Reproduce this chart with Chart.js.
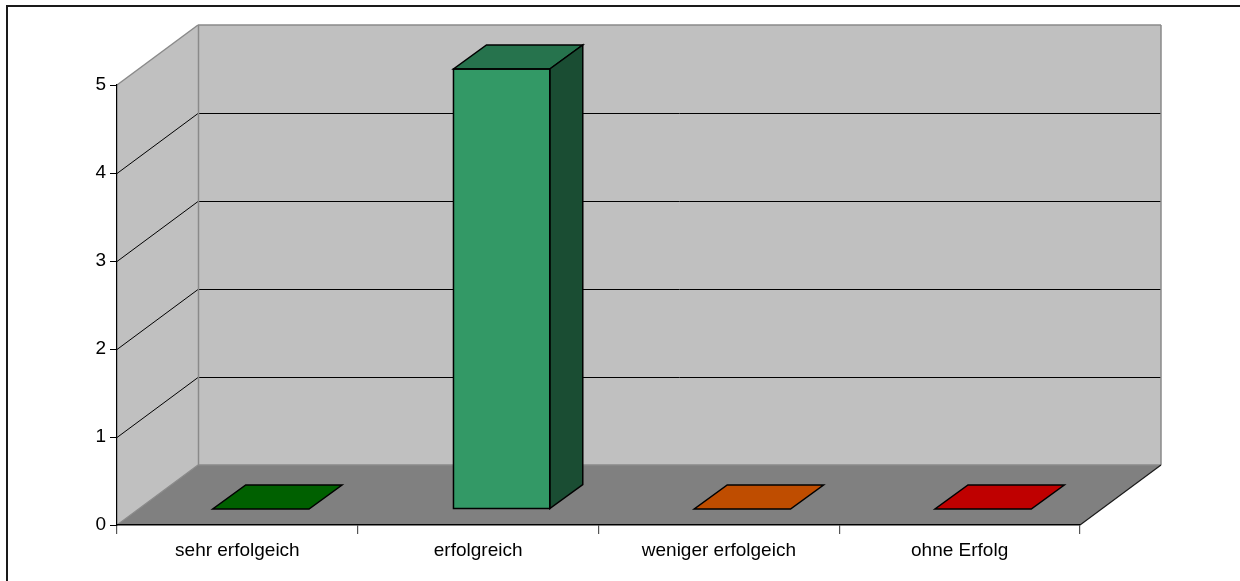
<!DOCTYPE html>
<html>
<head>
<meta charset="utf-8">
<script src="https://cdn.jsdelivr.net/npm/chart.js@4/dist/chart.umd.min.js"></script>
<style>
  html, body { margin: 0; padding: 0; background: #fff; }
  canvas { display: block; }
</style>
</head>
<body>
<canvas id="c" width="1240" height="581"></canvas>
<script>
// Categories, values and colours of the 3D column chart
const categories = ['sehr erfolgeich', 'erfolgreich', 'weniger erfolgeich', 'ohne Erfolg'];
const values = [0, 5, 0, 0];
const barColors = ['#008000', '#339966', '#FF6600', '#FF0000'];
const yTicks = [0, 1, 2, 3, 4, 5];

// 3D geometry (pixels)
const WALL_DX = 81, WALL_DY = 60;     // depth of the box walls
const FACE_DX = 23.5, FACE_DY = 16;   // where the column front faces sit inside the box
const BAR_DX = 33, BAR_DY = 24;       // depth of each column

function shade(hex, f) {
  const n = parseInt(hex.slice(1), 16);
  const r = Math.round(((n >> 16) & 255) * f);
  const g = Math.round(((n >> 8) & 255) * f);
  const b = Math.round((n & 255) * f);
  return `rgb(${r},${g},${b})`;
}

function poly(ctx, pts, fill, stroke, lw) {
  ctx.beginPath();
  ctx.moveTo(pts[0][0], pts[0][1]);
  for (let i = 1; i < pts.length; i++) ctx.lineTo(pts[i][0], pts[i][1]);
  ctx.closePath();
  if (fill) { ctx.fillStyle = fill; ctx.fill(); }
  if (stroke) { ctx.strokeStyle = stroke; ctx.lineWidth = lw || 1; ctx.stroke(); }
}

function line(ctx, x1, y1, x2, y2, color, lw) {
  ctx.beginPath();
  ctx.moveTo(x1, y1);
  ctx.lineTo(x2, y2);
  ctx.strokeStyle = color;
  ctx.lineWidth = lw || 1;
  ctx.stroke();
}

const box3d = {
  id: 'box3d',
  beforeDraw(chart) {
    const ctx = chart.ctx;
    const { left, right, top, bottom } = chart.chartArea;
    const y = chart.scales.y;
    ctx.save();
    ctx.fillStyle = '#ffffff';
    ctx.fillRect(0, 0, chart.width, chart.height);
    // outer frame
    ctx.strokeStyle = '#1a1a1a';
    ctx.lineWidth = 2;
    ctx.strokeRect(7, 6, chart.width + 20, chart.height + 20);

    const bl = left + WALL_DX, br = right + WALL_DX;
    const bt = top - WALL_DY, bb = bottom - WALL_DY;
    // side wall, back wall, floor
    poly(ctx, [[left, top], [bl, bt], [bl, bb], [left, bottom]], '#C0C0C0');
    poly(ctx, [[bl, bt], [br, bt], [br, bb], [bl, bb]], '#C0C0C0');
    poly(ctx, [[left, bottom], [right, bottom], [br, bb], [bl, bb]], '#808080');

    // gridlines on the walls
    ctx.lineWidth = 1;
    yTicks.forEach(v => {
      if (v === 0 || v === yTicks[yTicks.length - 1]) return;
      const py = Math.round(y.getPixelForValue(v)) + 0.5;
      line(ctx, left, py, bl, py - WALL_DY, '#000');
      line(ctx, bl, py - WALL_DY, br, py - WALL_DY, '#000');
    });

    // wall edges
    const edge = '#8a8a8a';
    line(ctx, left, top, bl, bt, edge, 1.5);
    line(ctx, bl, bt, br, bt, edge, 1.5);
    line(ctx, bl + 0.5, bt, bl + 0.5, bb, edge, 1.5);
    line(ctx, br, bt, br, bb, edge, 1.5);
    line(ctx, bl, bb, br, bb, edge, 1.5);
    line(ctx, left, bottom, bl, bb, edge, 1.2);
    line(ctx, right, bottom, br, bb, '#1a1a1a', 1.2);
    ctx.restore();
  },
  beforeDatasetsDraw(chart) {
    chart.ctx.save();
    chart.ctx.translate(FACE_DX, -FACE_DY);
  },
  afterDatasetsDraw(chart) {
    const ctx = chart.ctx;
    const meta = chart.getDatasetMeta(0);
    meta.data.forEach((bar, i) => {
      const p = bar.getProps(['x', 'y', 'base', 'width'], true);
      const x0 = p.x - p.width / 2, x1 = p.x + p.width / 2;
      const c = barColors[i];
      // top face
      poly(ctx, [[x0, p.y], [x1, p.y], [x1 + BAR_DX, p.y - BAR_DY], [x0 + BAR_DX, p.y - BAR_DY]],
        shade(c, 0.75), '#000', 1.5);
      // side face
      if (p.base - p.y > 0.5) {
        poly(ctx, [[x1, p.y], [x1 + BAR_DX, p.y - BAR_DY], [x1 + BAR_DX, p.base - BAR_DY], [x1, p.base]],
          shade(c, 0.5), '#000', 1.5);
        ctx.strokeStyle = '#000';
        ctx.lineWidth = 1.5;
        ctx.strokeRect(x0, p.y, p.width, p.base - p.y);
      }
    });
    ctx.restore();
  }
};

new Chart(document.getElementById('c'), {
  type: 'bar',
  data: {
    labels: categories,
    datasets: [{
      data: values,
      backgroundColor: barColors,
      borderWidth: 0,
      categoryPercentage: 0.4,
      barPercentage: 1,
      clip: false
    }]
  },
  options: {
    responsive: false,
    animation: false,
    events: [],
    layout: { padding: { top: 85, right: 160, left: 0, bottom: 0 } },
    plugins: { legend: { display: false }, tooltip: { enabled: false } },
    scales: {
      x: {
        offset: true,
        afterFit(s) { s.height = 56; },
        grid: { offset: true, drawOnChartArea: false, drawTicks: true, tickLength: 9, tickColor: '#555', lineWidth: 1.2 },
        border: { display: true, color: '#000', width: 1.5 },
        ticks: { color: '#000', padding: 5, font: { family: '"Liberation Sans", Arial, sans-serif', size: 19 } }
      },
      y: {
        min: 0, max: 5,
        afterFit(s) { s.width = 117; },
        afterBuildTicks(s) { s.ticks = yTicks.map(v => ({ value: v })); },
        grid: { drawOnChartArea: false, drawTicks: true, tickLength: 7, tickColor: '#000' },
        border: { display: true, color: '#000', width: 1.2 },
        ticks: { color: '#000', padding: 4, font: { family: '"Liberation Sans", Arial, sans-serif', size: 19 } }
      }
    }
  },
  plugins: [box3d]
});
</script>
</body>
</html>
